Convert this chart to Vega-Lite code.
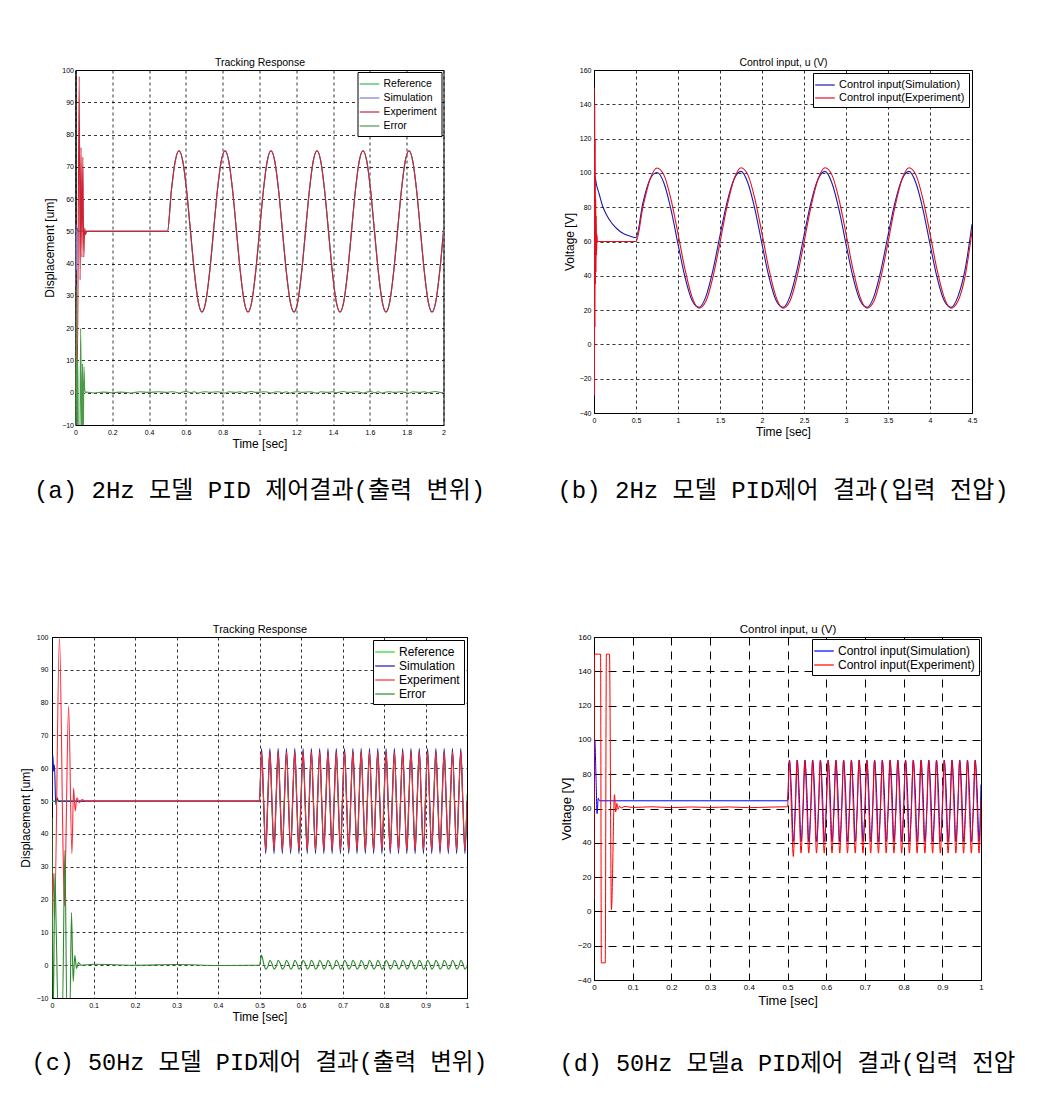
{
"$schema":"https://vega.github.io/schema/vega-lite/v6.json",
"padding":{"left":18,"top":56,"right":5,"bottom":5},
"background":"white",
"datasets":{
"a":[
{"t":0,"R":50,"S":33,"E":0,"X":-15},{"t":0.003,"S":52},{"t":0.004,"X":33},{"t":0.005,"E":16},{"t":0.006,"S":38},{"t":0.008,"X":-15},{"t":0.01,"S":51,"E":6},{"t":0.012,"X":10},{"t":0.015,"S":50},{"t":0.016,"X":-15},{"t":0.02,"E":98},{"t":0.024,"X":-15},{"t":0.025,"E":35},{"t":0.028,"X":20},{"t":0.03,"E":76},{"t":0.034,"X":-15},{"t":0.035,"E":42},{"t":0.038,"X":9},{"t":0.04,"E":73},{"t":0.042,"X":-15},{"t":0.045,"E":42},{"t":0.046,"X":8},{"t":0.05,"E":51,"X":1},{"t":0.055,"E":49,"X":0},{"t":0.06,"E":50,"X":0.2},{"t":0.1,"X":-0.1},{"t":0.15,"X":0.2},{"t":0.2,"X":0},{"t":0.25,"X":0.2},{"t":0.3,"X":-0.1},{"t":0.35,"X":0.3},{"t":0.4,"X":0.1},{"t":0.45,"X":0.3},
{"t":0.5,"R":50,"S":50,"E":50,"X":0.1},{"t":0.5208,"R":62.5,"S":62.5,"E":62.5,"X":0.3},{"t":0.5417,"R":71.7,"S":71.7,"E":71.7,"X":0.2},{"t":0.5625,"R":75,"S":75,"E":75,"X":-0.1},{"t":0.5833,"R":71.7,"S":71.7,"E":71.7,"X":0.2},{"t":0.6042,"R":62.5,"S":62.5,"E":62.5,"X":0.4},{"t":0.625,"R":50,"S":50,"E":50,"X":0},{"t":0.6458,"R":37.5,"S":37.5,"E":37.5,"X":0.3},{"t":0.6667,"R":28.3,"S":28.3,"E":28.3,"X":-0.1},{"t":0.6875,"R":25,"S":25,"E":25,"X":0.2},{"t":0.7083,"R":28.3,"S":28.3,"E":28.3,"X":0.3},{"t":0.7292,"R":37.5,"S":37.5,"E":37.5,"X":0.1},
{"t":0.75,"R":50,"S":50,"E":50,"X":0.2},{"t":0.7708,"R":62.5,"S":62.5,"E":62.5,"X":0.3},{"t":0.7917,"R":71.7,"S":71.7,"E":71.7,"X":0.1},{"t":0.8125,"R":75,"S":75,"E":75,"X":-0.1},{"t":0.8333,"R":71.7,"S":71.7,"E":71.7,"X":0.3},{"t":0.8542,"R":62.5,"S":62.5,"E":62.5,"X":0.2},{"t":0.875,"R":50,"S":50,"E":50,"X":0.1},{"t":0.8958,"R":37.5,"S":37.5,"E":37.5,"X":0.3},{"t":0.9167,"R":28.3,"S":28.3,"E":28.3,"X":0},{"t":0.9375,"R":25,"S":25,"E":25,"X":0.2},{"t":0.9583,"R":28.3,"S":28.3,"E":28.3,"X":0.4},{"t":0.9792,"R":37.5,"S":37.5,"E":37.5,"X":0.1},
{"t":1,"R":50,"S":50,"E":50,"X":0.1},{"t":1.0208,"R":62.5,"S":62.5,"E":62.5,"X":0.3},{"t":1.0417,"R":71.7,"S":71.7,"E":71.7,"X":0.2},{"t":1.0625,"R":75,"S":75,"E":75,"X":-0.1},{"t":1.0833,"R":71.7,"S":71.7,"E":71.7,"X":0.2},{"t":1.1042,"R":62.5,"S":62.5,"E":62.5,"X":0.3},{"t":1.125,"R":50,"S":50,"E":50,"X":0},{"t":1.1458,"R":37.5,"S":37.5,"E":37.5,"X":0.3},{"t":1.1667,"R":28.3,"S":28.3,"E":28.3,"X":-0.1},{"t":1.1875,"R":25,"S":25,"E":25,"X":0.2},{"t":1.2083,"R":28.3,"S":28.3,"E":28.3,"X":0.3},{"t":1.2292,"R":37.5,"S":37.5,"E":37.5,"X":0.1},
{"t":1.25,"R":50,"S":50,"E":50,"X":0.2},{"t":1.2708,"R":62.5,"S":62.5,"E":62.5,"X":0.3},{"t":1.2917,"R":71.7,"S":71.7,"E":71.7,"X":0.1},{"t":1.3125,"R":75,"S":75,"E":75,"X":-0.1},{"t":1.3333,"R":71.7,"S":71.7,"E":71.7,"X":0.3},{"t":1.3542,"R":62.5,"S":62.5,"E":62.5,"X":0.2},{"t":1.375,"R":50,"S":50,"E":50,"X":0.1},{"t":1.3958,"R":37.5,"S":37.5,"E":37.5,"X":0.3},{"t":1.4167,"R":28.3,"S":28.3,"E":28.3,"X":0},{"t":1.4375,"R":25,"S":25,"E":25,"X":0.2},{"t":1.4583,"R":28.3,"S":28.3,"E":28.3,"X":0.4},{"t":1.4792,"R":37.5,"S":37.5,"E":37.5,"X":0.1},
{"t":1.5,"R":50,"S":50,"E":50,"X":0.1},{"t":1.5208,"R":62.5,"S":62.5,"E":62.5,"X":0.3},{"t":1.5417,"R":71.7,"S":71.7,"E":71.7,"X":0.2},{"t":1.5625,"R":75,"S":75,"E":75,"X":-0.1},{"t":1.5833,"R":71.7,"S":71.7,"E":71.7,"X":0.2},{"t":1.6042,"R":62.5,"S":62.5,"E":62.5,"X":0.4},{"t":1.625,"R":50,"S":50,"E":50,"X":0},{"t":1.6458,"R":37.5,"S":37.5,"E":37.5,"X":0.3},{"t":1.6667,"R":28.3,"S":28.3,"E":28.3,"X":-0.1},{"t":1.6875,"R":25,"S":25,"E":25,"X":0.2},{"t":1.7083,"R":28.3,"S":28.3,"E":28.3,"X":0.3},{"t":1.7292,"R":37.5,"S":37.5,"E":37.5,"X":0.1},
{"t":1.75,"R":50,"S":50,"E":50,"X":0.2},{"t":1.7708,"R":62.5,"S":62.5,"E":62.5,"X":0.3},{"t":1.7917,"R":71.7,"S":71.7,"E":71.7,"X":0.1},{"t":1.8125,"R":75,"S":75,"E":75,"X":-0.1},{"t":1.8333,"R":71.7,"S":71.7,"E":71.7,"X":0.3},{"t":1.8542,"R":62.5,"S":62.5,"E":62.5,"X":0.2},{"t":1.875,"R":50,"S":50,"E":50,"X":0.1},{"t":1.8958,"R":37.5,"S":37.5,"E":37.5,"X":0.3},{"t":1.9167,"R":28.3,"S":28.3,"E":28.3,"X":0},{"t":1.9375,"R":25,"S":25,"E":25,"X":0.2},{"t":1.9583,"R":28.3,"S":28.3,"E":28.3,"X":0.4},{"t":1.9792,"R":37.5,"S":37.5,"E":37.5,"X":0.1},
{"t":2,"R":50,"S":50,"E":50,"X":0}
],
"b":[
{"t":0,"S":60,"E":0},{"t":0.003,"E":150},{"t":0.006,"E":-30},{"t":0.009,"E":140},{"t":0.01,"S":98},{"t":0.012,"E":10},{"t":0.015,"E":120},{"t":0.018,"E":35},{"t":0.021,"E":85},{"t":0.024,"E":42},{"t":0.027,"E":75},{"t":0.03,"S":93,"E":52},{"t":0.035,"E":64},{"t":0.04,"E":60},{"t":0.06,"S":88},{"t":0.1,"S":81},{"t":0.15,"S":75.5},{"t":0.2,"S":71.5},{"t":0.25,"S":68.5},{"t":0.3,"S":66.3},{"t":0.35,"S":64.7},{"t":0.4,"S":63.6},{"t":0.45,"S":62.8},{"t":0.5,"S":62.3,"E":60},
{"t":0.5833,"S":82.8,"E":80.3},{"t":0.6667,"S":96.3,"E":96.3},{"t":0.75,"S":100.2,"E":102.9},{"t":0.8333,"S":94,"E":98.7},{"t":0.9167,"S":78.6,"E":84.6},{"t":1,"S":58.5,"E":64.6},{"t":1.0833,"S":39.2,"E":43.7},{"t":1.1667,"S":25.7,"E":27.7},{"t":1.25,"S":21.6,"E":21.1},{"t":1.3333,"S":28,"E":25.3},{"t":1.4167,"S":43.4,"E":39.4},{"t":1.5,"S":63.5,"E":59.4},
{"t":1.5833,"S":82.8,"E":80.3},{"t":1.6667,"S":96.3,"E":96.3},{"t":1.75,"S":100.9,"E":103},{"t":1.8333,"S":94,"E":98.7},{"t":1.9167,"S":78.6,"E":84.6},{"t":2,"S":58.5,"E":64.6},{"t":2.0833,"S":39.2,"E":43.7},{"t":2.1667,"S":25.7,"E":27.7},{"t":2.25,"S":21.6,"E":21.1},{"t":2.3333,"S":28,"E":25.3},{"t":2.4167,"S":43.4,"E":39.4},{"t":2.5,"S":63.5,"E":59.4},
{"t":2.5833,"S":82.8,"E":80.3},{"t":2.6667,"S":96.3,"E":96.3},{"t":2.75,"S":100.9,"E":103},{"t":2.8333,"S":94,"E":98.7},{"t":2.9167,"S":78.6,"E":84.6},{"t":3,"S":58.5,"E":64.6},{"t":3.0833,"S":39.2,"E":43.7},{"t":3.1667,"S":25.7,"E":27.7},{"t":3.25,"S":21.6,"E":21.1},{"t":3.3333,"S":28,"E":25.3},{"t":3.4167,"S":43.4,"E":39.4},{"t":3.5,"S":63.5,"E":59.4},
{"t":3.5833,"S":82.8,"E":80.3},{"t":3.6667,"S":96.3,"E":96.3},{"t":3.75,"S":100.9,"E":103},{"t":3.8333,"S":94,"E":98.7},{"t":3.9167,"S":78.6,"E":84.6},{"t":4,"S":58.5,"E":64.6},{"t":4.0833,"S":39.2,"E":43.7},{"t":4.1667,"S":25.7,"E":27.7},{"t":4.25,"S":21.6,"E":21.1},{"t":4.3333,"S":28,"E":25.3},{"t":4.4167,"S":43.4,"E":39.4},{"t":4.5,"S":70,"E":66}
],
"c":[
{"t":0,"R":50,"S":50,"E":12,"X":45},{"t":0.002,"S":64},{"t":0.003,"E":28,"X":-15},{"t":0.004,"S":59},{"t":0.006,"S":61,"E":14},{"t":0.007,"X":28},{"t":0.009,"S":49},{"t":0.01,"X":12},{"t":0.012,"S":51},{"t":0.015,"X":-15},{"t":0.016,"S":50},{"t":0.018,"E":100},{"t":0.025,"X":-15},{"t":0.027,"E":33},{"t":0.03,"E":18},{"t":0.031,"X":35},{"t":0.033,"E":34},{"t":0.036,"X":-15},{"t":0.04,"E":79},{"t":0.043,"X":-15},{"t":0.047,"X":16},{"t":0.048,"E":34},{"t":0.051,"X":-5},{"t":0.052,"E":54},{"t":0.055,"X":3},{"t":0.056,"E":47},{"t":0.059,"X":-1},{"t":0.06,"E":51},{"t":0.064,"X":0.8},{"t":0.066,"E":49.5},{"t":0.07,"X":0},{"t":0.072,"E":50.5},{"t":0.08,"E":50},{"t":0.1,"X":0.3},{"t":0.2,"X":0},{"t":0.3,"X":0.2},{"t":0.4,"X":-0.1},
{"t":0.5,"R":50,"S":50,"E":50,"X":0},{"t":0.505,"R":64.9,"S":66,"E":65,"X":3},{"t":0.51,"R":47.9,"S":50,"E":50,"X":0.5},{"t":0.515,"R":35.1,"S":34,"E":35,"X":-1.2},
{"t":0.52,"R":52.1,"S":50,"E":50,"X":-0.5},{"t":0.525,"R":64.9,"S":66,"E":65,"X":1.5},{"t":0.53,"R":47.9,"S":50,"E":50,"X":0.5},{"t":0.535,"R":35.1,"S":34,"E":35,"X":-1.2},
{"t":0.54,"R":52.1,"S":50,"E":50,"X":-0.5},{"t":0.545,"R":64.9,"S":66,"E":65,"X":1.5},{"t":0.55,"R":47.9,"S":50,"E":50,"X":0.5},{"t":0.555,"R":35.1,"S":34,"E":35,"X":-1.2},
{"t":0.56,"R":52.1,"S":50,"E":50,"X":-0.5},{"t":0.565,"R":64.9,"S":66,"E":65,"X":1.5},{"t":0.57,"R":47.9,"S":50,"E":50,"X":0.5},{"t":0.575,"R":35.1,"S":34,"E":35,"X":-1.2},
{"t":0.58,"R":52.1,"S":50,"E":50,"X":-0.5},{"t":0.585,"R":64.9,"S":66,"E":65,"X":1.5},{"t":0.59,"R":47.9,"S":50,"E":50,"X":0.5},{"t":0.595,"R":35.1,"S":34,"E":35,"X":-1.2},
{"t":0.6,"R":52.1,"S":50,"E":50,"X":-0.5},{"t":0.605,"R":64.9,"S":66,"E":65,"X":1.5},{"t":0.61,"R":47.9,"S":50,"E":50,"X":0.5},{"t":0.615,"R":35.1,"S":34,"E":35,"X":-1.2},
{"t":0.62,"R":52.1,"S":50,"E":50,"X":-0.5},{"t":0.625,"R":64.9,"S":66,"E":65,"X":1.5},{"t":0.63,"R":47.9,"S":50,"E":50,"X":0.5},{"t":0.635,"R":35.1,"S":34,"E":35,"X":-1.2},
{"t":0.64,"R":52.1,"S":50,"E":50,"X":-0.5},{"t":0.645,"R":64.9,"S":66,"E":65,"X":1.5},{"t":0.65,"R":47.9,"S":50,"E":50,"X":0.5},{"t":0.655,"R":35.1,"S":34,"E":35,"X":-1.2},
{"t":0.66,"R":52.1,"S":50,"E":50,"X":-0.5},{"t":0.665,"R":64.9,"S":66,"E":65,"X":1.5},{"t":0.67,"R":47.9,"S":50,"E":50,"X":0.5},{"t":0.675,"R":35.1,"S":34,"E":35,"X":-1.2},
{"t":0.68,"R":52.1,"S":50,"E":50,"X":-0.5},{"t":0.685,"R":64.9,"S":66,"E":65,"X":1.5},{"t":0.69,"R":47.9,"S":50,"E":50,"X":0.5},{"t":0.695,"R":35.1,"S":34,"E":35,"X":-1.2},
{"t":0.7,"R":52.1,"S":50,"E":50,"X":-0.5},{"t":0.705,"R":64.9,"S":66,"E":65,"X":1.5},{"t":0.71,"R":47.9,"S":50,"E":50,"X":0.5},{"t":0.715,"R":35.1,"S":34,"E":35,"X":-1.2},
{"t":0.72,"R":52.1,"S":50,"E":50,"X":-0.5},{"t":0.725,"R":64.9,"S":66,"E":65,"X":1.5},{"t":0.73,"R":47.9,"S":50,"E":50,"X":0.5},{"t":0.735,"R":35.1,"S":34,"E":35,"X":-1.2},
{"t":0.74,"R":52.1,"S":50,"E":50,"X":-0.5},{"t":0.745,"R":64.9,"S":66,"E":65,"X":1.5},{"t":0.75,"R":47.9,"S":50,"E":50,"X":0.5},{"t":0.755,"R":35.1,"S":34,"E":35,"X":-1.2},
{"t":0.76,"R":52.1,"S":50,"E":50,"X":-0.5},{"t":0.765,"R":64.9,"S":66,"E":65,"X":1.5},{"t":0.77,"R":47.9,"S":50,"E":50,"X":0.5},{"t":0.775,"R":35.1,"S":34,"E":35,"X":-1.2},
{"t":0.78,"R":52.1,"S":50,"E":50,"X":-0.5},{"t":0.785,"R":64.9,"S":66,"E":65,"X":1.5},{"t":0.79,"R":47.9,"S":50,"E":50,"X":0.5},{"t":0.795,"R":35.1,"S":34,"E":35,"X":-1.2},
{"t":0.8,"R":52.1,"S":50,"E":50,"X":-0.5},{"t":0.805,"R":64.9,"S":66,"E":65,"X":1.5},{"t":0.81,"R":47.9,"S":50,"E":50,"X":0.5},{"t":0.815,"R":35.1,"S":34,"E":35,"X":-1.2},
{"t":0.82,"R":52.1,"S":50,"E":50,"X":-0.5},{"t":0.825,"R":64.9,"S":66,"E":65,"X":1.5},{"t":0.83,"R":47.9,"S":50,"E":50,"X":0.5},{"t":0.835,"R":35.1,"S":34,"E":35,"X":-1.2},
{"t":0.84,"R":52.1,"S":50,"E":50,"X":-0.5},{"t":0.845,"R":64.9,"S":66,"E":65,"X":1.5},{"t":0.85,"R":47.9,"S":50,"E":50,"X":0.5},{"t":0.855,"R":35.1,"S":34,"E":35,"X":-1.2},
{"t":0.86,"R":52.1,"S":50,"E":50,"X":-0.5},{"t":0.865,"R":64.9,"S":66,"E":65,"X":1.5},{"t":0.87,"R":47.9,"S":50,"E":50,"X":0.5},{"t":0.875,"R":35.1,"S":34,"E":35,"X":-1.2},
{"t":0.88,"R":52.1,"S":50,"E":50,"X":-0.5},{"t":0.885,"R":64.9,"S":66,"E":65,"X":1.5},{"t":0.89,"R":47.9,"S":50,"E":50,"X":0.5},{"t":0.895,"R":35.1,"S":34,"E":35,"X":-1.2},
{"t":0.9,"R":52.1,"S":50,"E":50,"X":-0.5},{"t":0.905,"R":64.9,"S":66,"E":65,"X":1.5},{"t":0.91,"R":47.9,"S":50,"E":50,"X":0.5},{"t":0.915,"R":35.1,"S":34,"E":35,"X":-1.2},
{"t":0.92,"R":52.1,"S":50,"E":50,"X":-0.5},{"t":0.925,"R":64.9,"S":66,"E":65,"X":1.5},{"t":0.93,"R":47.9,"S":50,"E":50,"X":0.5},{"t":0.935,"R":35.1,"S":34,"E":35,"X":-1.2},
{"t":0.94,"R":52.1,"S":50,"E":50,"X":-0.5},{"t":0.945,"R":64.9,"S":66,"E":65,"X":1.5},{"t":0.95,"R":47.9,"S":50,"E":50,"X":0.5},{"t":0.955,"R":35.1,"S":34,"E":35,"X":-1.2},
{"t":0.96,"R":52.1,"S":50,"E":50,"X":-0.5},{"t":0.965,"R":64.9,"S":66,"E":65,"X":1.5},{"t":0.97,"R":47.9,"S":50,"E":50,"X":0.5},{"t":0.975,"R":35.1,"S":34,"E":35,"X":-1.2},
{"t":0.98,"R":52.1,"S":50,"E":50,"X":-0.5},{"t":0.985,"R":64.9,"S":66,"E":65,"X":1.5},{"t":0.99,"R":47.9,"S":50,"E":50,"X":0.5},{"t":0.995,"R":35.1,"S":34,"E":35,"X":-1.2},
{"t":1,"R":52.1,"S":50,"E":50,"X":-0.5}
],
"d":[
{"t":0,"S":64,"E":7},{"t":0.001,"E":150},{"t":0.002,"S":100},{"t":0.005,"S":80},{"t":0.008,"S":57},{"t":0.011,"S":66},{"t":0.014,"S":64.5},{"t":0.017,"E":150},{"t":0.019,"E":-30},{"t":0.029,"E":-30},{"t":0.032,"E":150},{"t":0.04,"E":150},{"t":0.045,"E":1},{"t":0.053,"E":68},{"t":0.056,"E":58},{"t":0.059,"E":63},{"t":0.062,"E":59.5},{"t":0.066,"E":61.5},{"t":0.07,"E":60.3},{"t":0.08,"E":61.2},{"t":0.1,"E":60.6},{"t":0.15,"E":61},{"t":0.2,"E":60.5},{"t":0.25,"E":60.9},{"t":0.3,"E":60.6},{"t":0.35,"E":60.9},{"t":0.4,"E":60.5},{"t":0.45,"E":60.8},
{"t":0.5,"S":64.5,"E":61},{"t":0.505,"S":88.2,"E":88},{"t":0.51,"S":70.8,"E":61},{"t":0.515,"S":40.8,"E":32},
{"t":0.52,"S":58.2,"E":61},{"t":0.525,"S":88.2,"E":88},{"t":0.53,"S":70.8,"E":61},{"t":0.535,"S":40.8,"E":34},
{"t":0.54,"S":58.2,"E":61},{"t":0.545,"S":88.2,"E":88},{"t":0.55,"S":70.8,"E":61},{"t":0.555,"S":40.8,"E":34},
{"t":0.56,"S":58.2,"E":61},{"t":0.565,"S":88.2,"E":88},{"t":0.57,"S":70.8,"E":61},{"t":0.575,"S":40.8,"E":34},
{"t":0.58,"S":58.2,"E":61},{"t":0.585,"S":88.2,"E":88},{"t":0.59,"S":70.8,"E":61},{"t":0.595,"S":40.8,"E":34},
{"t":0.6,"S":58.2,"E":61},{"t":0.605,"S":88.2,"E":88},{"t":0.61,"S":70.8,"E":61},{"t":0.615,"S":40.8,"E":34},
{"t":0.62,"S":58.2,"E":61},{"t":0.625,"S":88.2,"E":88},{"t":0.63,"S":70.8,"E":61},{"t":0.635,"S":40.8,"E":34},
{"t":0.64,"S":58.2,"E":61},{"t":0.645,"S":88.2,"E":88},{"t":0.65,"S":70.8,"E":61},{"t":0.655,"S":40.8,"E":34},
{"t":0.66,"S":58.2,"E":61},{"t":0.665,"S":88.2,"E":88},{"t":0.67,"S":70.8,"E":61},{"t":0.675,"S":40.8,"E":34},
{"t":0.68,"S":58.2,"E":61},{"t":0.685,"S":88.2,"E":88},{"t":0.69,"S":70.8,"E":61},{"t":0.695,"S":40.8,"E":34},
{"t":0.7,"S":58.2,"E":61},{"t":0.705,"S":88.2,"E":88},{"t":0.71,"S":70.8,"E":61},{"t":0.715,"S":40.8,"E":34},
{"t":0.72,"S":58.2,"E":61},{"t":0.725,"S":88.2,"E":88},{"t":0.73,"S":70.8,"E":61},{"t":0.735,"S":40.8,"E":34},
{"t":0.74,"S":58.2,"E":61},{"t":0.745,"S":88.2,"E":88},{"t":0.75,"S":70.8,"E":61},{"t":0.755,"S":40.8,"E":34},
{"t":0.76,"S":58.2,"E":61},{"t":0.765,"S":88.2,"E":88},{"t":0.77,"S":70.8,"E":61},{"t":0.775,"S":40.8,"E":34},
{"t":0.78,"S":58.2,"E":61},{"t":0.785,"S":88.2,"E":88},{"t":0.79,"S":70.8,"E":61},{"t":0.795,"S":40.8,"E":34},
{"t":0.8,"S":58.2,"E":61},{"t":0.805,"S":88.2,"E":88},{"t":0.81,"S":70.8,"E":61},{"t":0.815,"S":40.8,"E":34},
{"t":0.82,"S":58.2,"E":61},{"t":0.825,"S":88.2,"E":88},{"t":0.83,"S":70.8,"E":61},{"t":0.835,"S":40.8,"E":34},
{"t":0.84,"S":58.2,"E":61},{"t":0.845,"S":88.2,"E":88},{"t":0.85,"S":70.8,"E":61},{"t":0.855,"S":40.8,"E":34},
{"t":0.86,"S":58.2,"E":61},{"t":0.865,"S":88.2,"E":88},{"t":0.87,"S":70.8,"E":61},{"t":0.875,"S":40.8,"E":34},
{"t":0.88,"S":58.2,"E":61},{"t":0.885,"S":88.2,"E":88},{"t":0.89,"S":70.8,"E":61},{"t":0.895,"S":40.8,"E":34},
{"t":0.9,"S":58.2,"E":61},{"t":0.905,"S":88.2,"E":88},{"t":0.91,"S":70.8,"E":61},{"t":0.915,"S":40.8,"E":34},
{"t":0.92,"S":58.2,"E":61},{"t":0.925,"S":88.2,"E":88},{"t":0.93,"S":70.8,"E":61},{"t":0.935,"S":40.8,"E":34},
{"t":0.94,"S":58.2,"E":61},{"t":0.945,"S":88.2,"E":88},{"t":0.95,"S":70.8,"E":61},{"t":0.955,"S":40.8,"E":34},
{"t":0.96,"S":58.2,"E":61},{"t":0.965,"S":88.2,"E":88},{"t":0.97,"S":70.8,"E":61},{"t":0.975,"S":40.8,"E":34},
{"t":0.98,"S":58.2,"E":61},{"t":0.985,"S":88.2,"E":88},{"t":0.99,"S":70.8,"E":61},{"t":0.995,"S":40.8,"E":34},
{"t":1,"S":74,"E":65}
]
},
"columns":2,
"align":"each",
"bounds":"flush",
"center":{"row":false,"column":true},
"spacing":{"row":212,"column":127},
"concat":[
{"width":368,"height":355,
"title":{"text":"(a) 2Hz 모델 PID 제어결과(출력 변위)","orient":"bottom","frame":"group","anchor":"middle","font":"Liberation Mono, Noto Sans CJK KR","fontSize":24,"fontWeight":"normal","offset":30,"color":"black"},
"data":{"name":"a"},
"transform":[{"fold":["R","S","E","X"],"as":["series","v"]},{"filter":"isValid(datum.v)"}],
"layer":[
{"mark":{"type":"line","strokeWidth":1.1,"clip":true,"interpolate":"monotone","invalid":"filter"},
"encoding":{
"x":{"field":"t","type":"quantitative","scale":{"domain":[0,2],"nice":false},"axis":{"values":[0,0.2,0.4,0.6,0.8,1,1.2,1.4,1.6,1.8,2],"format":".6~g","labelFontSize":7,"labelPadding":3,"title":"Time [sec]","titleFontSize":12,"titlePadding":3}},
"y":{"field":"v","type":"quantitative","scale":{"domain":[-10,100],"nice":false},"axis":{"values":[-10,0,10,20,30,40,50,60,70,80,90,100],"format":".6~g","labelFontSize":7,"labelPadding":2,"title":"Displacement [um]","titleFontSize":12,"titlePadding":5}},
"color":{"field":"series","type":"nominal","scale":{"domain":["R","S","E","X"],"range":["#33bb55","#7a7acc","#cc2233","#4a9a4a"]},"legend":{"title":null,"orient":"top-right","offset":2,"labelFontSize":10.5,"labelExpr":"datum.label=='R'?'Reference':datum.label=='S'?'Simulation':datum.label=='E'?'Experiment':'Error'"}}}},
{"mark":{"type":"line","opacity":0,"clip":true},
"encoding":{
"x":{"field":"t","type":"quantitative","scale":{"domain":[0,2],"nice":false},"axis":{"orient":"top","title":"Tracking Response","labels":false,"ticks":false,"domain":false,"grid":false,"titleFontSize":10.5,"titlePadding":3}},
"y":{"field":"v","type":"quantitative","scale":{"domain":[-10,100],"nice":false},"axis":null}}}
],
"resolve":{"axis":{"x":"independent","y":"independent"}}
},
{"width":378,"height":343,
"title":{"text":"(b)  2Hz 모델 PID제어 결과(입력 전압)","orient":"bottom","frame":"group","anchor":"middle","font":"Liberation Mono, Noto Sans CJK KR","fontSize":24,"fontWeight":"normal","offset":42,"color":"black"},
"data":{"name":"b"},
"transform":[{"fold":["S","E"],"as":["series","v"]},{"filter":"isValid(datum.v)"}],
"layer":[
{"mark":{"type":"line","strokeWidth":1.1,"clip":true,"interpolate":"monotone","invalid":"filter"},
"encoding":{
"x":{"field":"t","type":"quantitative","scale":{"domain":[0,4.5],"nice":false},"axis":{"values":[0,0.5,1,1.5,2,2.5,3,3.5,4,4.5],"format":".6~g","labelFontSize":7,"labelPadding":3,"title":"Time [sec]","titleFontSize":12,"titlePadding":3}},
"y":{"field":"v","type":"quantitative","scale":{"domain":[-40,160],"nice":false},"axis":{"values":[-40,-20,0,20,40,60,80,100,120,140,160],"format":".6~g","labelFontSize":7,"labelPadding":3,"title":"Voltage [V]","titleFontSize":12,"titlePadding":3}},
"color":{"field":"series","type":"nominal","scale":{"domain":["S","E"],"range":["#1a1aaa","#e01020"]},"legend":{"title":null,"orient":"top-right","offset":3,"labelFontSize":11,"labelExpr":"datum.label=='S'?'Control input(Simulation)':'Control input(Experiment)'"}}}},
{"mark":{"type":"line","opacity":0,"clip":true},
"encoding":{
"x":{"field":"t","type":"quantitative","scale":{"domain":[0,4.5],"nice":false},"axis":{"orient":"top","title":"Control input, u (V)","labels":false,"ticks":false,"domain":false,"grid":false,"titleFontSize":10.5,"titlePadding":3}},
"y":{"field":"v","type":"quantitative","scale":{"domain":[-40,160],"nice":false},"axis":null}}}
],
"resolve":{"axis":{"x":"independent","y":"independent"}}
},
{"width":415,"height":361,
"title":{"text":"(c) 50Hz 모델 PID제어 결과(출력 변위)","orient":"bottom","frame":"group","anchor":"middle","font":"Liberation Mono, Noto Sans CJK KR","fontSize":23.5,"fontWeight":"normal","offset":29,"color":"black"},
"data":{"name":"c"},
"transform":[{"fold":["R","S","E","X"],"as":["series","v"]},{"filter":"isValid(datum.v)"}],
"layer":[
{"mark":{"type":"line","strokeWidth":1.1,"clip":true,"interpolate":"monotone","invalid":"filter"},
"encoding":{
"x":{"field":"t","type":"quantitative","scale":{"domain":[0,1],"nice":false},"axis":{"values":[0,0.1,0.2,0.3,0.4,0.5,0.6,0.7,0.8,0.9,1],"format":".6~g","labelFontSize":7,"labelPadding":3,"title":"Time [sec]","titleFontSize":12,"titlePadding":3}},
"y":{"field":"v","type":"quantitative","scale":{"domain":[-10,100],"nice":false},"axis":{"values":[-10,0,10,20,30,40,50,60,70,80,90,100],"format":".6~g","labelFontSize":7,"labelPadding":4,"title":"Displacement [um]","titleFontSize":12,"titlePadding":4}},
"color":{"field":"series","type":"nominal","scale":{"domain":["R","S","E","X"],"range":["#22dd22","#1a1aaa","#ff2a3a","#2e8a2e"]},"legend":{"title":null,"orient":"top-right","offset":3,"labelFontSize":12,"labelExpr":"datum.label=='R'?'Reference':datum.label=='S'?'Simulation':datum.label=='E'?'Experiment':'Error'"}}}},
{"mark":{"type":"line","opacity":0,"clip":true},
"encoding":{
"x":{"field":"t","type":"quantitative","scale":{"domain":[0,1],"nice":false},"axis":{"orient":"top","title":"Tracking Response","labels":false,"ticks":false,"domain":false,"grid":false,"titleFontSize":11,"titlePadding":3}},
"y":{"field":"v","type":"quantitative","scale":{"domain":[-10,100],"nice":false},"axis":null}}}
],
"resolve":{"axis":{"x":"independent","y":"independent"}}
},
{"width":387,"height":343,
"title":{"text":"(d) 50Hz 모델a PID제어 결과(입력 전압","orient":"bottom","frame":"group","anchor":"middle","font":"Liberation Mono, Noto Sans CJK KR","fontSize":23.5,"fontWeight":"normal","offset":45,"color":"black"},
"data":{"name":"d"},
"transform":[{"fold":["S","E"],"as":["series","v"]},{"filter":"isValid(datum.v)"}],
"layer":[
{"mark":{"type":"line","strokeWidth":1,"clip":true,"interpolate":"monotone","invalid":"filter"},
"encoding":{
"x":{"field":"t","type":"quantitative","scale":{"domain":[0,1],"nice":false},"axis":{"values":[0,0.1,0.2,0.3,0.4,0.5,0.6,0.7,0.8,0.9,1],"format":".6~g","labelFontSize":8,"labelPadding":3,"title":"Time [sec]","titleFontSize":13,"titlePadding":3,"gridDash":[8,6],"gridWidth":1}},
"y":{"field":"v","type":"quantitative","scale":{"domain":[-40,160],"nice":false},"axis":{"values":[-40,-20,0,20,40,60,80,100,120,140,160],"format":".6~g","labelFontSize":8,"labelPadding":3,"title":"Voltage [V]","titleFontSize":13,"titlePadding":4,"gridDash":[8,6],"gridWidth":1}},
"color":{"field":"series","type":"nominal","scale":{"domain":["S","E"],"range":["#0000ff","#ff0000"]},"legend":{"title":null,"orient":"top-right","offset":2,"labelFontSize":12,"labelExpr":"datum.label=='S'?'Control input(Simulation)':'Control input(Experiment)'"}}}},
{"mark":{"type":"line","opacity":0,"clip":true},
"encoding":{
"x":{"field":"t","type":"quantitative","scale":{"domain":[0,1],"nice":false},"axis":{"orient":"top","title":"Control input, u (V)","labels":false,"ticks":false,"domain":false,"grid":false,"titleFontSize":11.5,"titlePadding":3}},
"y":{"field":"v","type":"quantitative","scale":{"domain":[-40,160],"nice":false},"axis":null}}}
],
"resolve":{"axis":{"x":"independent","y":"independent"}}
}
],
"resolve":{"scale":{"color":"independent","x":"independent","y":"independent"},"legend":{"color":"independent"}},
"config":{
"view":{"stroke":"black","strokeWidth":1},
"font":"Liberation Sans",
"axis":{"labelColor":"black","titleColor":"black","titleFontWeight":"normal","domainColor":"black","ticks":false,"gridColor":"black","gridOpacity":1,"gridWidth":0.8,"gridDash":[3,3],"labelFont":"Liberation Sans","titleFont":"Liberation Sans","labelFlush":false,"labelOverlap":false,"labelBound":false},
"legend":{"strokeColor":"black","fillColor":"white","padding":4,"cornerRadius":0,"symbolType":"M-1.4,0H1.4","symbolSize":196,"symbolStrokeWidth":1.2,"rowPadding":0,"labelColor":"black","labelFont":"Liberation Sans","labelOffset":6},
"title":{"color":"black","fontWeight":"normal"}
}
}
